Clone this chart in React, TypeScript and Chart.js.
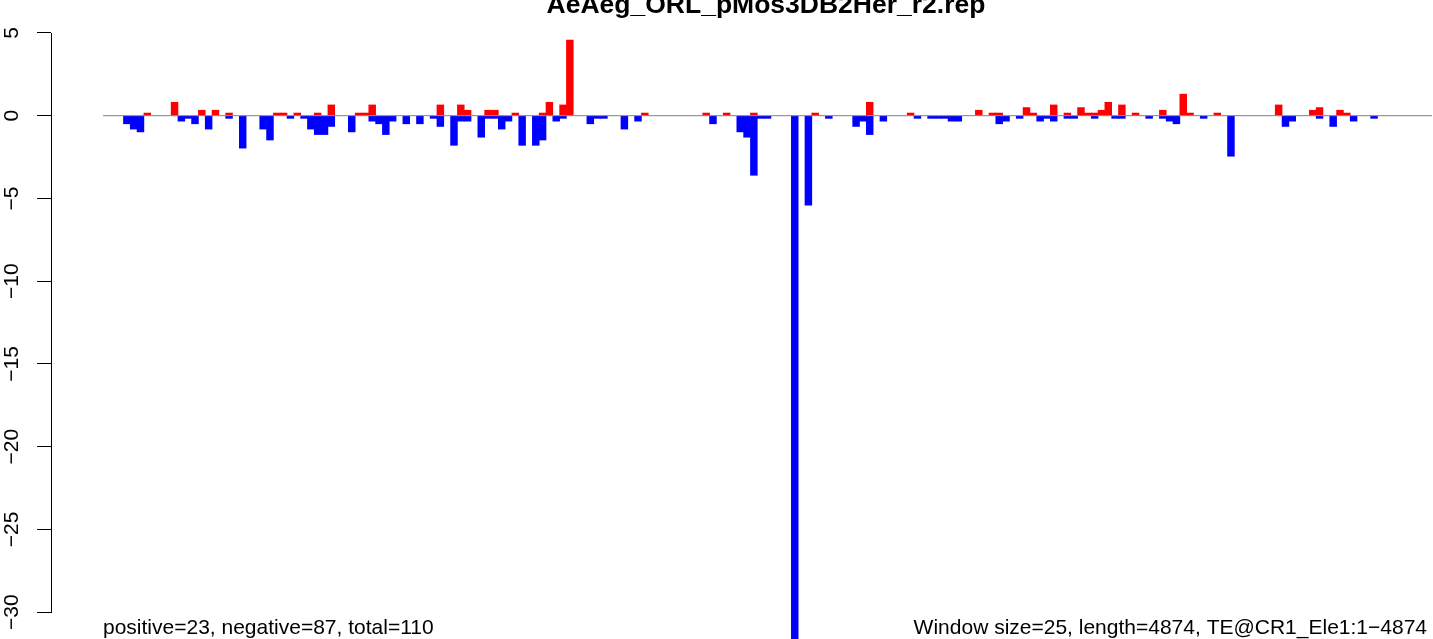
import React, { useEffect, useRef } from "react";
import { Chart, registerables } from "chart.js";

Chart.register(...registerables);

const TITLE = "AeAeg_ORL_pMos3DB2Her_r2.rep";
const FOOTER_LEFT = "positive=23, negative=87, total=110";
const FOOTER_RIGHT = "Window size=25, length=4874, TE@CR1_Ele1:1\u22124874";
const WINDOW_COUNT = 195;

const posWindows = [6, 10, 14, 16, 18, 25, 26, 28, 31, 33, 37, 38, 39, 49, 52, 53, 56, 57, 60, 64, 65, 67, 68, 79, 88, 91, 95, 104, 112, 118, 128, 130, 131, 135, 136, 139, 141, 143, 144, 145, 146, 147, 149, 151, 155, 158, 159, 163, 172, 177, 178, 181, 182];
const posValues = [0.16, 0.81, 0.33, 0.33, 0.16, 0.16, 0.16, 0.16, 0.16, 0.65, 0.16, 0.16, 0.65, 0.65, 0.65, 0.33, 0.33, 0.33, 0.16, 0.16, 0.81, 0.65, 4.57, 0.16, 0.16, 0.16, 0.16, 0.16, 0.81, 0.16, 0.33, 0.16, 0.16, 0.49, 0.16, 0.65, 0.16, 0.49, 0.16, 0.16, 0.33, 0.81, 0.65, 0.16, 0.33, 1.3, 0.16, 0.16, 0.65, 0.33, 0.49, 0.33, 0.16];

const negWindows = [3, 4, 5, 11, 12, 13, 15, 18, 20, 23, 24, 27, 29, 30, 31, 32, 33, 36, 39, 40, 41, 42, 44, 46, 48, 49, 51, 52, 53, 55, 56, 57, 58, 59, 61, 63, 64, 66, 67, 71, 72, 73, 76, 78, 89, 93, 94, 95, 96, 97, 101, 103, 106, 110, 111, 112, 114, 119, 121, 122, 123, 124, 125, 131, 132, 134, 137, 138, 139, 141, 142, 145, 148, 149, 153, 155, 156, 157, 161, 165, 173, 174, 178, 180, 183, 186];
const negValues = [-0.49, -0.81, -0.98, -0.33, -0.16, -0.49, -0.81, -0.16, -1.96, -0.81, -1.47, -0.16, -0.16, -0.81, -1.14, -1.14, -0.65, -0.98, -0.33, -0.49, -1.14, -0.33, -0.49, -0.49, -0.16, -0.65, -1.79, -0.33, -0.33, -1.3, -0.16, -0.16, -0.81, -0.33, -1.79, -1.79, -1.47, -0.33, -0.16, -0.49, -0.16, -0.16, -0.81, -0.33, -0.49, -0.98, -1.3, -3.6, -0.16, -0.16, -33, -5.4, -0.16, -0.65, -0.33, -1.14, -0.33, -0.16, -0.16, -0.16, -0.16, -0.33, -0.33, -0.49, -0.33, -0.16, -0.33, -0.16, -0.33, -0.16, -0.16, -0.16, -0.16, -0.16, -0.16, -0.16, -0.33, -0.49, -0.16, -2.45, -0.65, -0.33, -0.16, -0.65, -0.33, -0.16];

const yTickValues = [5, 0, -5, -10, -15, -20, -25, -30];
const yTickLabels = ["5", "0", "\u22125", "\u221210", "\u221215", "\u221220", "\u221225", "\u221230"];

const FONT = "'Liberation Sans', Arial, Helvetica, sans-serif";

const decorPlugin = {
  id: "decor",
  afterDatasetsDraw(chart: any) {
    const { ctx, scales } = chart;
    const x = scales.x;
    const y = scales.y;
    ctx.save();
    // zero reference line
    const y0 = y.getPixelForValue(0);
    ctx.strokeStyle = "#808080";
    ctx.lineWidth = 1;
    ctx.beginPath();
    ctx.moveTo(x.getPixelForValue(0), y0);
    ctx.lineTo(x.getPixelForValue(WINDOW_COUNT), y0);
    ctx.stroke();
    // y axis line spanning the tick range only
    const ax = Math.round(y.right - 0.5) + 0.5;
    ctx.strokeStyle = "#000000";
    ctx.beginPath();
    ctx.moveTo(ax, Math.round(y.getPixelForValue(yTickValues[0])));
    ctx.lineTo(ax, Math.round(y.getPixelForValue(yTickValues[yTickValues.length - 1])) + 1);
    ctx.stroke();
    ctx.restore();
  },
  afterDraw(chart: any) {
    const { ctx, scales } = chart;
    const x = scales.x;
    ctx.save();
    ctx.fillStyle = "#000000";
    ctx.textBaseline = "alphabetic";
    ctx.font = `bold 26.5px ${FONT}`;
    ctx.textAlign = "center";
    ctx.fillText(TITLE, 766, 13);
    ctx.font = `21px ${FONT}`;
    ctx.textAlign = "left";
    ctx.fillText(FOOTER_LEFT, x.getPixelForValue(0), 634);
    ctx.textAlign = "right";
    ctx.fillText(FOOTER_RIGHT, 1427, 634);
    ctx.restore();
  },
};

export default function App() {
  const canvasRef = useRef<HTMLCanvasElement | null>(null);

  useEffect(() => {
    const canvas = canvasRef.current;
    if (!canvas) return;
    const posData = posWindows.map((w, k) => ({ x: w + 0.5, y: posValues[k] }));
    const negData = negWindows.map((w, k) => ({ x: w + 0.5, y: negValues[k] }));

    const chart = new Chart(canvas, {
      type: "bar",
      data: {
        datasets: [
          {
            label: "positive",
            data: posData,
            backgroundColor: "#FF0000",
            borderWidth: 0,
            grouped: false,
            barPercentage: 1,
            categoryPercentage: 1,
          },
          {
            label: "negative",
            data: negData,
            backgroundColor: "#0000FF",
            borderWidth: 0,
            grouped: false,
            barPercentage: 1,
            categoryPercentage: 1,
          },
        ],
      },
      options: {
        responsive: false,
        animation: false,
        devicePixelRatio: 1,
        layout: { padding: { top: 25, right: 1, bottom: 40, left: 0 } },
        plugins: {
          legend: { display: false },
          title: { display: false },
          tooltip: { enabled: false },
        },
        scales: {
          x: {
            type: "linear",
            display: false,
            min: -7.63,
            max: WINDOW_COUNT,
            offset: false,
            bounds: "data",
          },
          y: {
            type: "linear",
            position: "left",
            min: -31.68,
            max: 5.48,
            bounds: "data",
            border: { display: false },
            grid: {
              display: true,
              drawOnChartArea: false,
              drawTicks: true,
              tickLength: 14,
              color: "#000000",
              lineWidth: 1,
            },
            ticks: {
              autoSkip: false,
              minRotation: 90,
              maxRotation: 90,
              crossAlign: "center",
              padding: 7,
              color: "#000000",
              font: { family: FONT, size: 21 },
              callback: (value: any) => {
                const k = yTickValues.indexOf(Number(value));
                return k >= 0 ? yTickLabels[k] : "";
              },
            },
            afterBuildTicks: (scale: any) => {
              scale.ticks = yTickValues.map((v) => ({ value: v }));
            },
            afterFit: (scale: any) => {
              scale.width = 51;
            },
          },
        },
      },
      plugins: [decorPlugin],
    } as any);

    return () => {
      chart.destroy();
    };
  }, []);

  return (
    <div
      style={{
        position: "absolute",
        left: 0,
        top: 0,
        width: 1433,
        height: 639,
        overflow: "hidden",
        background: "#ffffff",
      }}
    >
      <canvas ref={canvasRef} width={1433} height={680} style={{ display: "block" }} />
    </div>
  );
}
